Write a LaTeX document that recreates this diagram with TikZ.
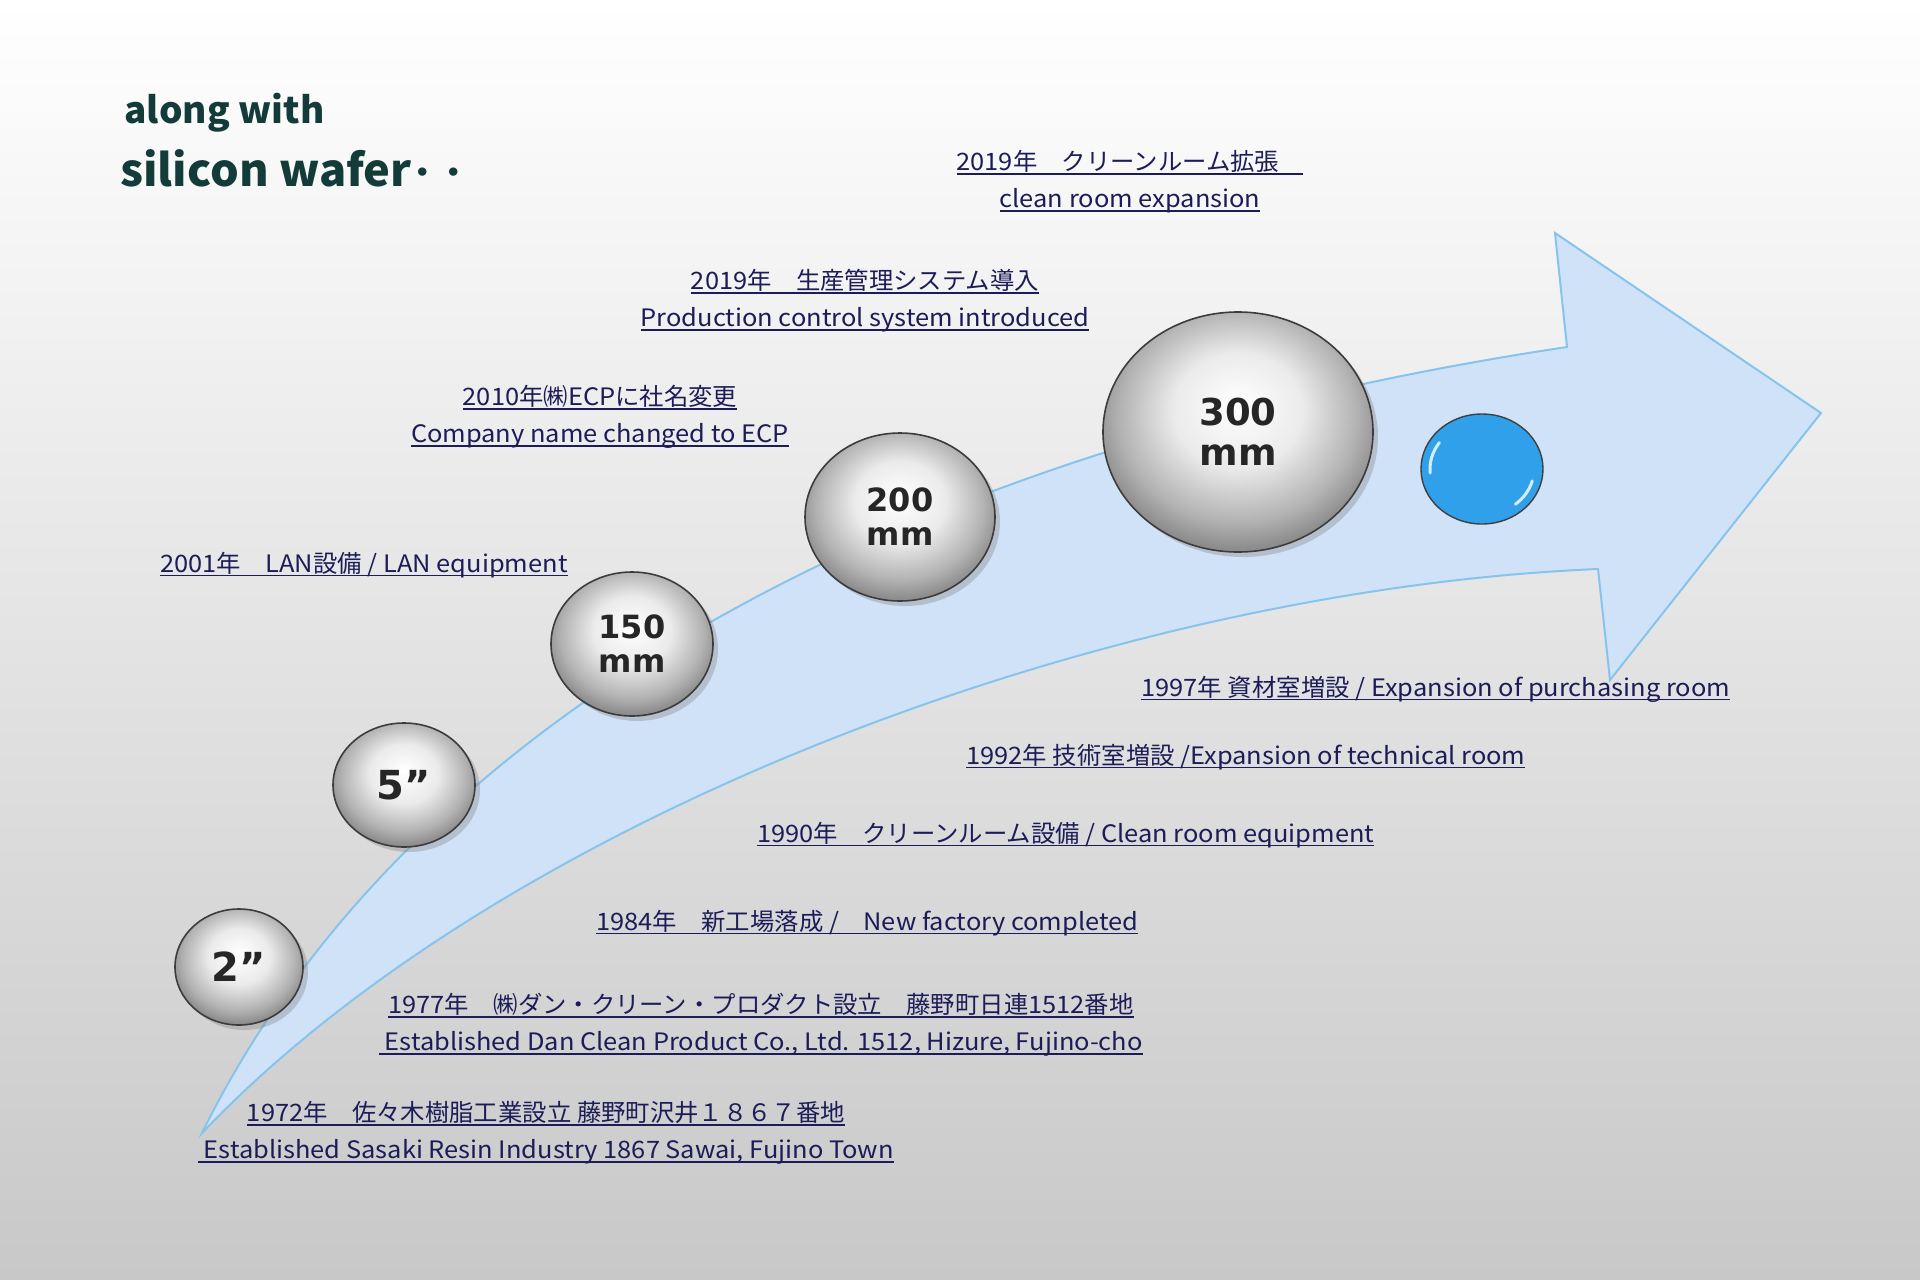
\documentclass[tikz,border=0pt]{standalone}
\usepackage{fontspec}
\setmainfont{Noto Sans CJK JP}[FakeStretch=1.06]
\newfontfamily\jp{Noto Sans CJK JP}[FakeStretch=1.015]
\newfontfamily\sizefont{DejaVu Sans}
\usetikzlibrary{arrows.meta, positioning, shapes.geometric, shadows}
\definecolor{NavyInk}{HTML}{1C1C58}
\definecolor{TitleTeal}{HTML}{133B39}
\definecolor{ArrowFill}{HTML}{D0E2F7}
\definecolor{ArrowEdge}{HTML}{86C4EE}
\definecolor{WaferEdge}{HTML}{3C3C3C}
\definecolor{NextBlue}{HTML}{2FA0E9}
\definecolor{BgBottom}{HTML}{C8C8C8}
\pgfdeclareradialshading{wafer}{\pgfpoint{0bp}{6bp}}{%
  color(0bp)=(white); color(12bp)=(black!8); color(22bp)=(black!30);
  color(27bp)=(black!45); color(50bp)=(black!45)}
\newcommand{\ulabel}[1]{\setbox0\hbox{#1}\rlap{\rule[-4pt]{\wd0}{1.5pt}}\box0}

\begin{document}
\begin{tikzpicture}[x=1pt, y=-1pt, >=Stealth, thick,
    lbl/.style={font=\fontsize{24}{37}\selectfont, text=NavyInk, inner sep=0pt},
    waferball/.style={ellipse, draw=WaferEdge, line width=1.6pt, shading=wafer,
      drop shadow={shadow xshift=5pt, shadow yshift=-5pt, opacity=0.35},
      inner sep=0pt, text=black!85, align=center}]
    % Background
    \fill[top color=white, bottom color=BgBottom] (0,0) rectangle (1920,1280);
    \useasboundingbox (0,0) rectangle (1920,1280);

    % Title
    \node[anchor=west, inner sep=0pt, text=TitleTeal, font=\jp\bfseries\fontsize{36.5}{40}\selectfont] (along) at (124,113) {along with};
    \node[anchor=west, inner sep=0pt, text=TitleTeal, font=\jp\bfseries\fontsize{44.5}{50}\selectfont] (silicon) at (120,168) {silicon wafer{\kern-4pt\raisebox{3pt}{\fontsize{30}{30}\selectfont ・・}}};

    % Growth arrow
    \coordinate (tail) at (202,1133);
    \coordinate (headTop) at (1567,347);
    \coordinate (barbTop) at (1555,233);
    \coordinate (tip) at (1821,413);
    \coordinate (barbLow) at (1610,680);
    \coordinate (headLow) at (1598,569);
    \draw[ArrowEdge, line width=2pt, fill=ArrowFill, line join=miter]
      (tail) .. controls (400,730) and (880,450) .. (headTop) -- (barbTop) -- (tip)
      -- (barbLow) -- (headLow) .. controls (1100,590) and (500,820) .. cycle;

    % Wafer sizes
    \foreach \name/\cx/\cy/\dw/\dh/\fs/\ls/\txt in {
        w2/239/967/128/116/40/42/{2”},
        w5/404/785/142/124/40/42/{5”},
        w150/632/644/162/144/32/34/{150\\mm},
        w200/900/517/190/168/32/34/{200\\mm},
        w300/1238/432/270/240/37/40/{300\\mm}} {
        \node[waferball, minimum width=\dw, minimum height=\dh,
          font=\sizefont\bfseries\fontsize{\fs}{\ls}\selectfont] (\name) at (\cx,\cy) {\txt};
    }

    % Next wafer
    \node[ellipse, draw=black!75, line width=1.4pt, fill=NextBlue, minimum width=122, minimum height=110] (wnext) at (1482,469) {};
    \draw[white, line width=3pt, opacity=0.8, line cap=round] (wnext.center) ++(175:52 and 46) arc[start angle=175, end angle=215, x radius=52, y radius=46];
    \draw[white, line width=3pt, opacity=0.8, line cap=round] (wnext.center) ++(15:52 and 46) arc[start angle=15, end angle=50, x radius=52, y radius=46];

    % Upper milestones
    \node[lbl, align=center] (roomExp) at (1130,182) {\ulabel{2019{\jp 年　クリーンルーム拡張　}}\\\ulabel{clean room expansion}};
    \node[lbl, align=center] (prodCtl) at (865,301) {\ulabel{2019{\jp 年　生産管理システム導入}}\\\ulabel{Production control system introduced}};
    \node[lbl, align=center] (rename) at (600,417) {\ulabel{2010{\jp 年㈱}ECP{\jp に社名変更}}\\\ulabel{Company name changed to ECP}};
    \node[lbl, anchor=west] (lan) at (160,565) {\ulabel{2001{\jp 年　}LAN{\jp 設備} / LAN equipment}};

    % Lower milestones
    \node[lbl, anchor=west] (purch) at (1141,689) {\ulabel{1997{\jp 年} {\jp 資材室増設} / Expansion of purchasing room}};
    \node[lbl, anchor=west] (tech) at (966,757) {\ulabel{1992{\jp 年} {\jp 技術室増設} /Expansion of technical room}};
    \node[lbl, anchor=west] (cleanEq) at (757,835) {\ulabel{1990{\jp 年　クリーンルーム設備} / Clean room equipment}};
    \node[lbl, anchor=west] (factory) at (596,923) {\ulabel{1984{\jp 年　新工場落成} /{\jp 　}New factory completed}};
    \node[lbl, align=center] (dan) at (761,1025) {\ulabel{1977{\jp 年　㈱ダン・クリーン・プロダクト設立　藤野町日連}1512{\jp 番地}}\\\ulabel{\ Established Dan Clean Product Co., Ltd. 1512, Hizure, Fujino-cho}};
    \node[lbl, align=center] (sasaki) at (546,1133) {\ulabel{1972{\jp 年　佐々木樹脂工業設立} {\jp 藤野町沢井１８６７番地}}\\\ulabel{\ Established Sasaki Resin Industry 1867 Sawai, Fujino Town}};
\end{tikzpicture}
\end{document}
